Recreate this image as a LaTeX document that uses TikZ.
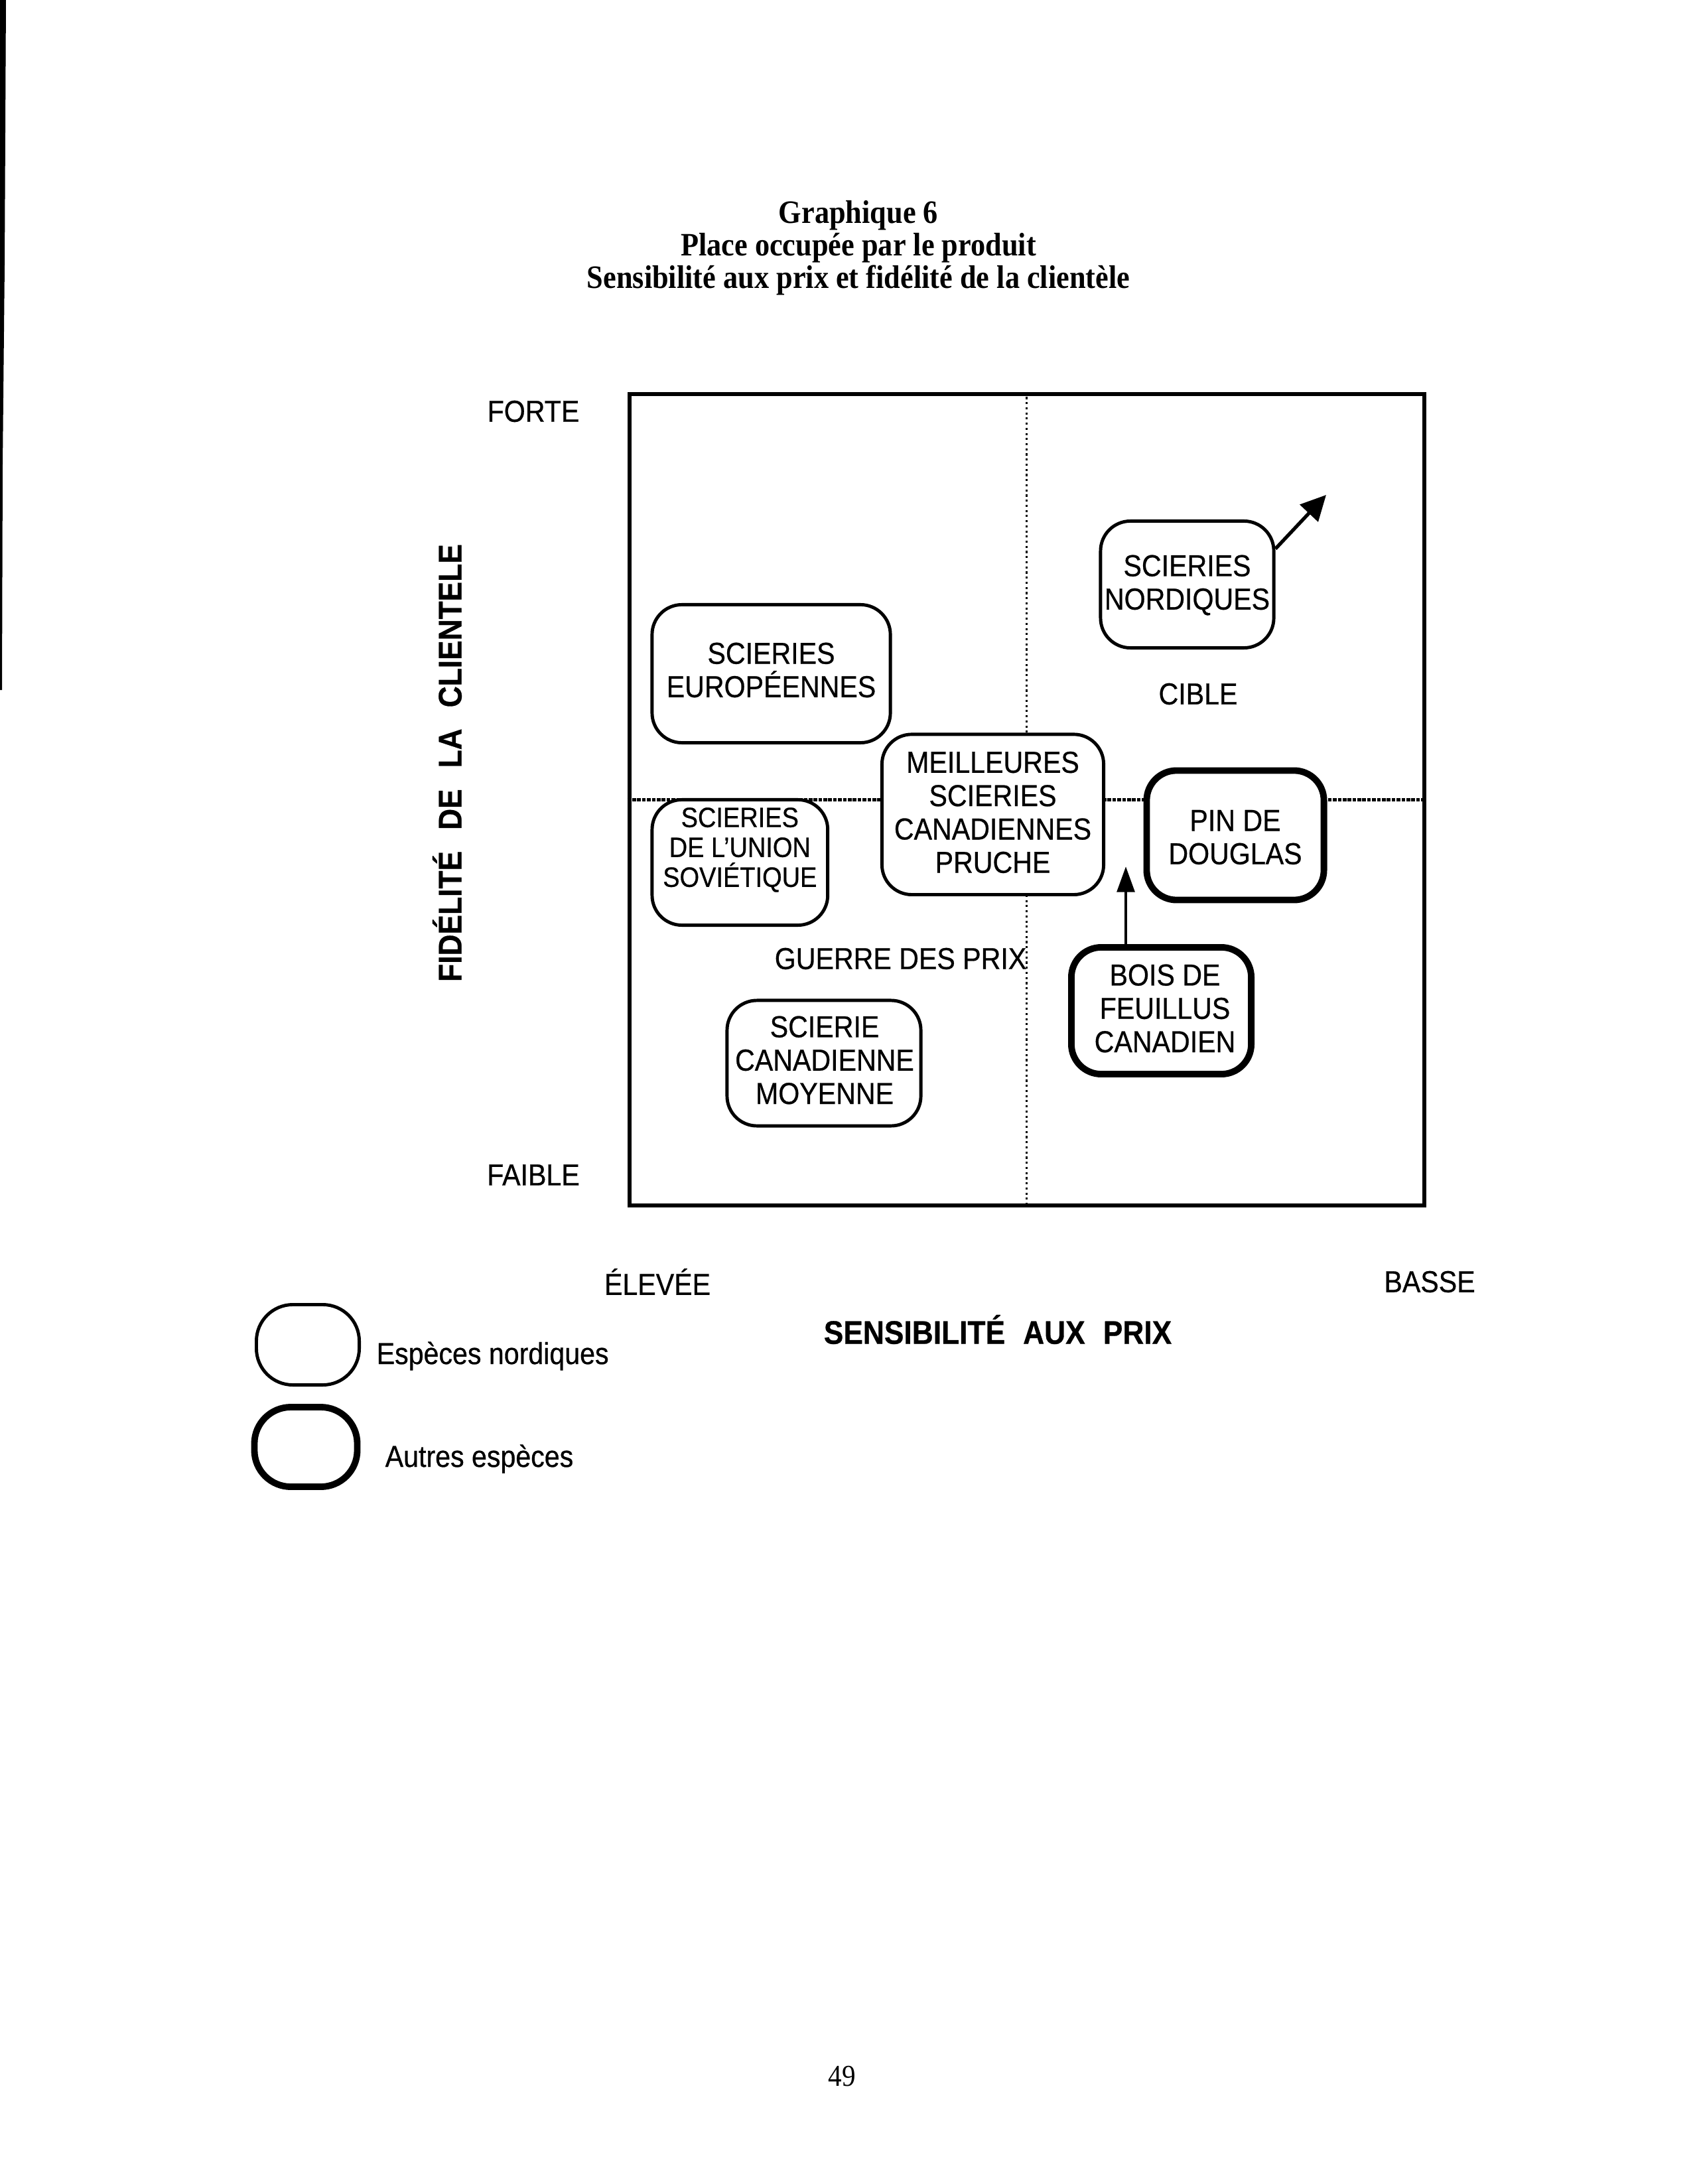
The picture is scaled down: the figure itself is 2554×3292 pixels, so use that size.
\documentclass[tikz,border=0pt]{standalone}
\usepackage{fontspec}
\setmainfont{Liberation Sans}[FakeStretch=0.9,FakeBold=0.6]
\newfontfamily\titlefont{Liberation Serif}[FakeStretch=0.9]
\usetikzlibrary{arrows.meta,calc}
\begin{document}
\begin{tikzpicture}[x=0.01cm,y=-0.01cm,
  box/.style={draw,fill=white,rounded corners=0.45cm,line width=1.4pt,inner sep=0pt},
  thickbox/.style={box,line width=2.8pt},
  txt/.style={inner sep=0pt,align=center,font=\fontsize{13}{14.3}\selectfont},
  smalltxt/.style={inner sep=0pt,align=center,font=\fontsize{12}{12.8}\selectfont},
  axis/.style={inner sep=0pt,font=\bfseries\fontsize{14}{16}\selectfont},
  ttl/.style={inner sep=0pt,font=\titlefont\bfseries\fontsize{14}{16}\selectfont},
  arrN/.style={line width=1.5pt,-{Triangle[length=10.8pt,width=10.5pt]}},
  arrB/.style={line width=1.4pt,-{Triangle[length=11pt,width=7.5pt]}}]
\useasboundingbox (0,0) rectangle (2554,3292);
\fill[black] (0,0) -- (9,0) -- (7,400) -- (4,700) -- (3,1040) -- (0,1040) -- cycle;
% title
\node[ttl] (t1) at (1294,325) {Graphique 6};
\node[ttl] (t2) at (1294,374) {Place occupée par le produit};
\node[ttl] (t3) at (1294,422) {Sensibilité aux prix et fidélité de la clientèle};
% frame
\node[draw,line width=1.7pt,minimum width=11.975cm,minimum height=12.23cm,inner sep=0pt] (frame) at (1547.75,1205.5) {};
\draw[line width=0.9pt,dash pattern=on 0.9pt off 1.3pt] (frame.north) -- (frame.south);
\draw[line width=1.3pt,dash pattern=on 1.6pt off 0.5pt] (frame.west) -- (frame.east);
% boxes
\node[box,minimum width=3.59cm,minimum height=2.08cm] (euro) at (1162.5,1015.5) {};
\node[txt] (eurot) at (1162.5,1010) {SCIERIES\\EUROPÉENNES};
\node[box,minimum width=2.61cm,minimum height=1.91cm] (nord) at (1789.5,881) {};
\node[txt] (nordt) at (1789.5,882) {SCIERIES\\NORDIQUES};
\node[box,minimum width=3.34cm,minimum height=2.415cm] (meil) at (1496.5,1227.7) {};
\node[txt] (meilt) at (1496.5,1224.5) {MEILLEURES\\SCIERIES\\CANADIENNES\\PRUCHE};
\node[box,minimum width=2.646cm,minimum height=1.89cm] (union) at (1115.3,1300) {};
\node[smalltxt] (uniont) at (1115.3,1281) {SCIERIES\\DE L’UNION\\SOVIÉTIQUE};
\node[thickbox,minimum width=2.67cm,minimum height=1.95cm] (pin) at (1862,1259) {};
\node[txt] (pint) at (1862,1262) {PIN DE\\DOUGLAS};
\node[thickbox,minimum width=2.71cm,minimum height=1.91cm] (bois) at (1750.5,1523.5) {};
\node[txt] (boist) at (1756,1520) {BOIS DE\\FEUILLUS\\CANADIEN};
\node[box,minimum width=2.92cm,minimum height=1.89cm] (moy) at (1242,1602.5) {};
\node[txt] (moyt) at (1243,1598) {SCIERIE\\CANADIENNE\\MOYENNE};
% arrows
\coordinate (tipN) at (1999,746);
\coordinate (tipB) at (1697,1306);
\draw[arrN] (nord.22) -- (tipN);
\draw[arrB] ($(bois.north)+(-53.5,0)$) -- (tipB);
% labels
\node[txt] (cible) at (1806,1046) {CIBLE};
\node[txt,anchor=east] (guerre) at (1548,1445) {GUERRE DES PRIX};
\node[txt] (forte) at (804,620) {FORTE};
\node[txt] (faible) at (804,1771) {FAIBLE};
\node[txt] (elevee) at (991,1932) {ÉLEVÉE};
\node[txt] (basse) at (2155,1932) {BASSE};
\node[axis] (xlab) at (1504,2004) {SENSIBILITÉ\hspace{0.55em}AUX\hspace{0.55em}PRIX};
\node[axis,rotate=90] (ylab) at (674,1150) {FIDÉLITÉ\hspace{0.65em}DE\hspace{0.65em}LA\hspace{0.65em}CLIENTELE};
% legend
\node[draw,line width=1.4pt,rounded corners=0.55cm,minimum width=1.55cm,minimum height=1.21cm,inner sep=0pt] (leg1) at (464,2027) {};
\node[txt,anchor=west] (leg1t) at (567,2044) {Espèces nordiques};
\node[draw,line width=2.8pt,rounded corners=0.55cm,minimum width=1.55cm,minimum height=1.2cm,inner sep=0pt] (leg2) at (461,2181) {};
\node[txt,anchor=west] (leg2t) at (580,2199) {Autres espèces};
% page number
\node[inner sep=0pt,font=\titlefont\fontsize{13}{15}\selectfont] (page) at (1269,3130) {49};
\end{tikzpicture}
\end{document}
